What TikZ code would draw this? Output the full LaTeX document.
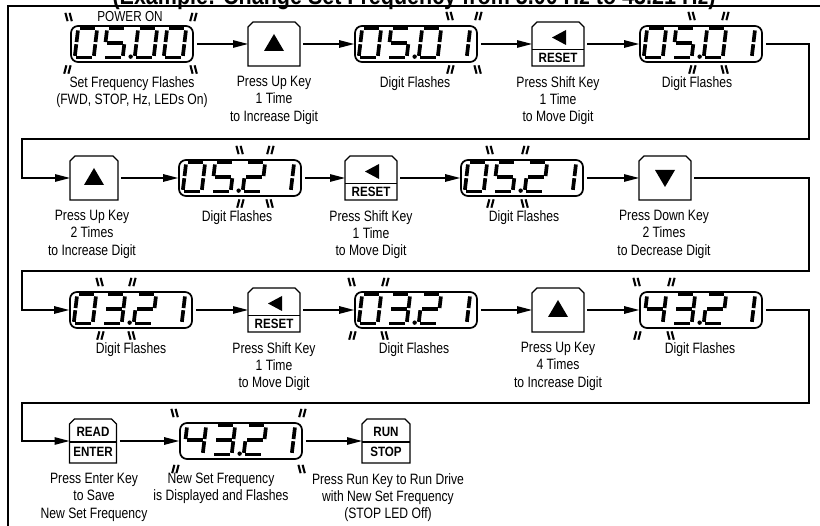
\documentclass[tikz,border=0pt]{standalone}
\usepackage{fontspec}
\setmainfont{Liberation Sans}
\newfontfamily\narrowfont[FakeStretch=0.86]{Liberation Sans}
\newfontfamily\labfont[FakeStretch=0.81]{Liberation Sans}
\usetikzlibrary{arrows.meta}

\newcommand\segA{\draw (1.8,0)--(17.2,0);}
\newcommand\segB{\draw (19,1.8)--(19,13.4);}
\newcommand\segC{\draw (19,15.6)--(19,27.2);}
\newcommand\segD{\draw (1.8,29)--(17.2,29);}
\newcommand\segE{\draw (0,15.6)--(0,27.2);}
\newcommand\segF{\draw (0,1.8)--(0,13.4);}
\newcommand\segG{\draw (1.8,14.5)--(17.2,14.5);}
\newcommand\sevdigit[3]{\begin{scope}[shift={(#1,#2)},xslant=0.12,line width=3.7pt,line cap=butt]%
\ifcase#3\relax \segA\segB\segC\segD\segE\segF\or\segB\segC\or\segA\segB\segG\segE\segD\or\segA\segB\segG\segC\segD\or\segF\segG\segB\segC\or\segA\segF\segG\segC\segD\fi
\end{scope}}
\newcommand\dispnum[5]{\begin{scope}[shift={(#1.north west)}]
\sevdigit{8}{3.5}{#2}\sevdigit{37}{3.5}{#3}\sevdigit{68}{3.5}{#4}\sevdigit{97}{3.5}{#5}
\fill (60.5,31.5) circle (2.2);
\end{scope}}
\newcommand\flB[2]{\draw[flashmark] (#1-3.6,#2-4.2)--(#1-1.4,#2+4.2) (#1+0.6,#2-4.2)--(#1+2.8,#2+4.2);}
\newcommand\flF[2]{\draw[flashmark] (#1-2.8,#2+4.2)--(#1-0.6,#2-4.2) (#1+1.4,#2+4.2)--(#1+3.6,#2-4.2);}
\newcommand\keyshape[1]{\draw[keyline] (#1.south west) -- ([yshift=-5pt]#1.north west) -- ([xshift=5pt]#1.north west) -- ([xshift=-5pt]#1.north east) -- ([yshift=-5pt]#1.north east) -- (#1.south east) -- cycle;}

\tikzset{
 disp/.style={draw, line width=1.7pt, rounded corners=7pt, minimum width=122pt, minimum height=36pt, inner sep=0pt},
 keyn/.style={minimum width=52pt, minimum height=44pt, inner sep=0pt, outer sep=0pt},
 keyline/.style={line width=1.1pt},
 keytext/.style={font=\narrowfont\bfseries\fontsize{13.5}{15}\selectfont, inner sep=0pt},
 lab/.style={font=\labfont\fontsize{15}{17.3}\selectfont, align=center, anchor=north, inner sep=0pt},
 flashmark/.style={line width=2.1pt},
 arr/.style={line width=1.2pt, -{Triangle[length=15pt,width=7.5pt]}, shorten <=3pt},
}

\begin{document}
\begin{tikzpicture}[x=1pt,y=-1pt]
\useasboundingbox (0,0) rectangle (820,526);
% title and frame
\node[font=\narrowfont\bfseries\fontsize{25}{27}\selectfont, anchor=base, inner sep=0pt] (title) at (414,4.6) {(Example: Change Set Frequency from 5.00 Hz to 43.21 Hz)};
\draw[line width=1.3pt] (8,530) -- (8,6) -- (830,6);

% ---------- row 1 ----------
\node[disp] (d1) at (132,44) {};
\dispnum{d1}{0}{5}{0}{0}
\node[keyn] (k1) at (274,44) {}; \keyshape{k1}
\fill[shift={(k1.center)}] (-10,7) -- (10,7) -- (0,-10) -- cycle;
\node[disp] (d2) at (416,44) {};
\dispnum{d2}{0}{5}{0}{1}
\node[keyn] (k2) at (558,44) {}; \keyshape{k2}
\fill[shift={(k2.center)}] (8,-14) -- (8,1) -- (-6,-6.5) -- cycle;
\draw[keyline] ([yshift=-5.5pt]k2.west) -- ([yshift=-5.5pt]k2.east);
\node[keytext] (k2t) at ([yshift=-14pt]k2.center) {RESET};
\node[disp] (d3) at (701,44) {};
\dispnum{d3}{0}{5}{0}{1}

\node[font=\labfont\fontsize{14.5}{16}\selectfont, inner sep=0pt] (pwr) at (130,16.5) {POWER ON};
\flB{69}{17}\flF{193}{17}\flF{67}{69.5}\flB{194}{69.5}
\flB{450}{16}\flF{478}{16}\flF{450}{69.5}\flB{478}{69.5}
\flB{692}{16}\flF{725}{16}\flF{692}{69.5}\flB{725}{69.5}

\node[lab] (t1) at (132,76) {Set Frequency Flashes\\(FWD, STOP, Hz, LEDs On)};
\node[lab] (t2) at (274,76) {Press Up Key\\1 Time\\to Increase Digit};
\node[lab] (t3) at (415,76) {Digit Flashes};
\node[lab] (t4) at (558,76) {Press Shift Key\\1 Time\\to Move Digit};
\node[lab] (t5) at (697,76) {Digit Flashes};

\draw[arr] (d1) -- (k1);
\draw[arr] (k1) -- (d2);
\draw[arr] (d2) -- (k2);
\draw[arr] (k2) -- (d3);

% ---------- row 2 ----------
\node[keyn, minimum width=48pt] (k3) at (94,178) {}; \keyshape{k3}
\fill[shift={(k3.center)}] (-10,7) -- (10,7) -- (0,-10) -- cycle;
\node[disp] (d4) at (240,178) {};
\dispnum{d4}{0}{5}{2}{1}
\node[keyn] (k4) at (371,178) {}; \keyshape{k4}
\fill[shift={(k4.center)}] (8,-14) -- (8,1) -- (-6,-6.5) -- cycle;
\draw[keyline] ([yshift=-5.5pt]k4.west) -- ([yshift=-5.5pt]k4.east);
\node[keytext] (k4t) at ([yshift=-14pt]k4.center) {RESET};
\node[disp] (d5) at (522,178) {};
\dispnum{d5}{0}{5}{2}{1}
\node[keyn] (k5) at (665,178) {}; \keyshape{k5}
\fill[shift={(k5.center)}] (-10,-8) -- (10,-8) -- (0,9) -- cycle;

\flB{240}{150}\flF{270}{150}\flF{240}{203.5}\flB{270}{203.5}
\flB{490}{150}\flF{525}{150}\flF{490}{203.5}\flB{525}{203.5}

\node[lab] (t6) at (92,210) {Press Up Key\\2 Times\\to Increase Digit};
\node[lab] (t7) at (237,210) {Digit Flashes};
\node[lab] (t8) at (371,210) {Press Shift Key\\1 Time\\to Move Digit};
\node[lab] (t9) at (524,210) {Digit Flashes};
\node[lab] (t10) at (664,210) {Press Down Key\\2 Times\\to Decrease Digit};

\coordinate (ra) at (809,139); \coordinate (la) at (22,139);
\draw[arr] (d3.east) -- (ra |- d3.east) -- (ra) -- (la) -- (la |- k3.west) -- (k3.west);
\draw[arr] (k3) -- (d4);
\draw[arr] (d4) -- (k4);
\draw[arr] (k4) -- (d5);
\draw[arr] (d5) -- (k5);

% ---------- row 3 ----------
\node[disp] (d6) at (131,310) {};
\dispnum{d6}{0}{3}{2}{1}
\node[keyn] (k6) at (274,310) {}; \keyshape{k6}
\fill[shift={(k6.center)}] (8,-14) -- (8,1) -- (-6,-6.5) -- cycle;
\draw[keyline] ([yshift=-5.5pt]k6.west) -- ([yshift=-5.5pt]k6.east);
\node[keytext] (k6t) at ([yshift=-14pt]k6.center) {RESET};
\node[disp] (d7) at (416,310) {};
\dispnum{d7}{0}{3}{2}{1}
\node[keyn] (k7) at (558,310) {}; \keyshape{k7}
\fill[shift={(k7.center)}] (-10,7) -- (10,7) -- (0,-10) -- cycle;
\node[disp] (d8) at (701,310) {};
\dispnum{d8}{4}{3}{2}{1}

\flB{100}{282}\flF{132}{282}\flF{100}{335.5}\flB{132}{335.5}
\flB{352}{282}\flF{385}{282}\flF{352}{335.5}\flB{385}{335.5}
\flB{637}{282}\flF{671}{282}\flF{637}{335.5}\flB{671}{335.5}

\node[lab] (t11) at (131,342) {Digit Flashes};
\node[lab] (t12) at (274,342) {Press Shift Key\\1 Time\\to Move Digit};
\node[lab] (t13) at (414,342) {Digit Flashes};
\node[lab] (t14) at (558,342) {Press Up Key\\4 Times\\to Increase Digit};
\node[lab] (t15) at (700,342) {Digit Flashes};

\coordinate (rb) at (809,271); \coordinate (lb) at (22,271);
\draw[arr] (k5.east) -- (rb |- k5.east) -- (rb) -- (lb) -- (lb |- d6.west) -- (d6.west);
\draw[arr] (d6) -- (k6);
\draw[arr] (k6) -- (d7);
\draw[arr] (d7) -- (k7);
\draw[arr] (k7) -- (d8);

% ---------- row 4 ----------
\node[keyn, minimum width=47pt] (k8) at (93,441) {}; \keyshape{k8}
\node[keytext] (k8a) at ([yshift=9pt]k8.center) {READ};
\draw[keyline] ([yshift=-1pt]k8.west) -- ([yshift=-1pt]k8.east);
\node[keytext] (k8b) at ([yshift=-10.5pt]k8.center) {ENTER};
\node[disp] (d9) at (241,441) {};
\dispnum{d9}{4}{3}{2}{1}
\node[keyn, minimum width=48pt] (k9) at (386,441) {}; \keyshape{k9}
\node[keytext] (k9a) at ([yshift=9pt]k9.center) {RUN};
\draw[keyline] ([yshift=-1pt]k9.west) -- ([yshift=-1pt]k9.east);
\node[keytext] (k9b) at ([yshift=-10.5pt]k9.center) {STOP};

\flB{175}{413}\flF{302}{413}\flF{175}{469}\flB{302}{469}

\node[lab] (t16) at (94,473) {Press Enter Key\\to Save\\New Set Frequency};
\node[lab] (t17) at (221,473) {New Set Frequency\\is Displayed and Flashes};
\node[lab] (t18) at (388,473) {Press Run Key to Run Drive\\with New Set Frequency\\(STOP LED Off)};

\coordinate (rc) at (809,403); \coordinate (lc) at (22,403);
\draw[arr] (d8.east) -- (rc |- d8.east) -- (rc) -- (lc) -- (lc |- k8.west) -- (k8.west);
\draw[arr] (k8) -- (d9);
\draw[arr] (d9) -- (k9);
\end{tikzpicture}
\end{document}
